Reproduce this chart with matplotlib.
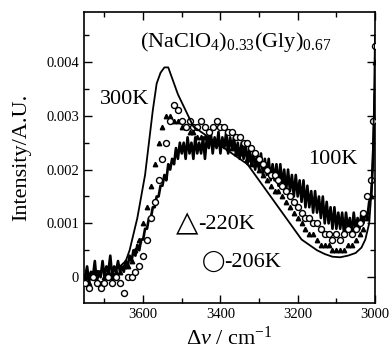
import numpy as np
import matplotlib
matplotlib.use('Agg')
import matplotlib.pyplot as plt
from matplotlib.ticker import MultipleLocator, FuncFormatter

plt.rcParams['font.family'] = ['Liberation Serif', 'DejaVu Serif']
plt.rcParams['mathtext.fontset'] = 'custom'
plt.rcParams['mathtext.rm'] = 'Liberation Serif'
plt.rcParams['mathtext.it'] = 'Liberation Serif:italic'

# ---- data -------------------------------------------------------------
# 300 K (solid line)
x_300 = [3750, 3720, 3690, 3660, 3645, 3635, 3625, 3615, 3605, 3595, 3585, 3575,
         3565, 3555, 3545, 3535, 3525, 3510, 3490, 3470, 3450, 3430, 3410, 3390,
         3370, 3350, 3330, 3310, 3290, 3270, 3250, 3230, 3210, 3190, 3170, 3150,
         3130, 3110, 3090, 3070, 3050, 3035, 3025, 3015, 3008, 3003, 3000]
y_300 = [0.00005, 0.0001, 0.00015, 0.0002, 0.0003, 0.0005, 0.0008, 0.0011, 0.0015,
         0.0019, 0.0025, 0.0031, 0.0036, 0.0038, 0.0039, 0.0039, 0.0037, 0.0034,
         0.0031, 0.0028, 0.0027, 0.0026, 0.0025, 0.0024, 0.0023, 0.0022, 0.0021,
         0.0019, 0.0017, 0.0015, 0.0013, 0.0011, 0.0009, 0.0007, 0.0006, 0.0005,
         0.00043, 0.00038, 0.00037, 0.0004, 0.00045, 0.00055, 0.0007, 0.001,
         0.0017, 0.003, 0.0045]

# 100 K (noisy line), every 5 cm-1 from 3750 down to 3000
x_100 = np.arange(3750, 2999, -5)
y_100 = [
    0.0000, 0.0002, -0.0001, 0.0001, 0.0000, 0.0003, -0.0001, 0.0001, 0.0000, 0.0003,
    0.0000, 0.0002, 0.0001, 0.0004, 0.0000, 0.0002, 0.0001, 0.0003, 0.0001, 0.0002,
    0.0001, 0.0003, 0.0002, 0.0004, 0.0003, 0.0005, 0.0004, 0.0006, 0.0005, 0.0007,
    0.0007, 0.0009, 0.0009, 0.0011, 0.0011, 0.0013, 0.0013, 0.0015, 0.0015, 0.0017,
    0.0017, 0.0019, 0.0018, 0.0021, 0.0020, 0.0022, 0.0021, 0.0024, 0.0022, 0.0025,
    0.0023, 0.0025, 0.0022, 0.0026, 0.0023, 0.0025, 0.0022, 0.0026, 0.0023, 0.0025,
    0.0023, 0.0026, 0.0022, 0.0026, 0.0024, 0.0027, 0.0023, 0.0026, 0.0024, 0.0027,
    0.0023, 0.0026, 0.0024, 0.0027, 0.0023, 0.0026, 0.0024, 0.0026, 0.0023, 0.0025,
    0.0022, 0.0025, 0.0022, 0.0025, 0.0021, 0.0024, 0.0021, 0.0023, 0.0020, 0.0023,
    0.0020, 0.0023, 0.0019, 0.0022, 0.0019, 0.0022, 0.0018, 0.0021, 0.0018, 0.0021,
    0.0017, 0.0021, 0.0017, 0.0020, 0.0016, 0.0020, 0.0016, 0.0019, 0.0015, 0.0019,
    0.0015, 0.0018, 0.0014, 0.0018, 0.0013, 0.0017, 0.0013, 0.0016, 0.0012, 0.0016,
    0.0012, 0.0015, 0.0011, 0.0015, 0.0010, 0.0014, 0.0010, 0.0013, 0.0009, 0.0013,
    0.0009, 0.0012, 0.0009, 0.0012, 0.0008, 0.0012, 0.0009, 0.0011, 0.0008, 0.0012,
    0.0009, 0.0011, 0.0009, 0.0012, 0.0010, 0.0012, 0.0011, 0.0014, 0.0015, 0.0022,
    0.0034]

# -220 K (filled triangles), every 10 cm-1
x_220 = np.arange(3750, 2999, -10)
y_220 = [
    0.0000, -0.0001, 0.0000, 0.0001, -0.0001, 0.0000, 0.0001, 0.0000, 0.0001, 0.0001,
    0.0002, 0.0002, 0.0003, 0.0005, 0.0007, 0.0010, 0.0013, 0.0017, 0.0021, 0.0025,
    0.0028, 0.0030, 0.0030, 0.0029, 0.0029, 0.0028, 0.0028, 0.0027, 0.0027, 0.0026,
    0.0026, 0.0026, 0.0026, 0.0025, 0.0025, 0.0025, 0.0025, 0.0024, 0.0024, 0.0023,
    0.0023, 0.0023, 0.0022, 0.0021, 0.0021, 0.0020, 0.0019, 0.0018, 0.0017, 0.0016,
    0.0016, 0.0015, 0.0014, 0.0013, 0.0012, 0.0011, 0.0010, 0.0009, 0.0008, 0.0008,
    0.0007, 0.0006, 0.0006, 0.0006, 0.0005, 0.0005, 0.0005, 0.0005, 0.0006, 0.0006,
    0.0007, 0.0008, 0.0009, 0.0011, 0.0015, 0.0040]

# -206 K (open circles)
x_206 = list(np.arange(3750, 3009, -10)) + [3005, 3000]
y_206 = [
    -0.0001, -0.0002, 0.0000, -0.0001, -0.0002, -0.0001, 0.0000, -0.0001, 0.0000, -0.0001,
    -0.0003, 0.0000, 0.0000, 0.0001, 0.0002, 0.0004, 0.0007, 0.0011, 0.0014, 0.0018,
    0.0022, 0.0025, 0.0029, 0.0032, 0.0031, 0.0029, 0.0028, 0.0029, 0.0028, 0.0028,
    0.0029, 0.0028, 0.0027, 0.0028, 0.0029, 0.0028, 0.0028, 0.0027, 0.0027, 0.0026,
    0.0026, 0.0025, 0.0025, 0.0024, 0.0023, 0.0022, 0.0021, 0.0020, 0.0019, 0.0019,
    0.0018, 0.0017, 0.0016, 0.0015, 0.0014, 0.0013, 0.0012, 0.0011, 0.0011, 0.0010,
    0.0010, 0.0009, 0.0008, 0.0008, 0.0007, 0.0008, 0.0007, 0.0008, 0.0009, 0.0008,
    0.0009, 0.0010, 0.0012, 0.0015, 0.0018, 0.0029, 0.0043]

x_ticks = [3600, 3400, 3200, 3000]
y_ticks = [0, 0.001, 0.002, 0.003, 0.004]

# ---- figure -----------------------------------------------------------
fig = plt.figure(figsize=(3.92, 3.51), dpi=100)
ax = fig.add_axes([0.2143, 0.1368, 0.7423, 0.829])

ax.plot(x_100, y_100, color='black', lw=1.9, zorder=2)
ax.plot(x_220, y_220, ls='none', marker='^', ms=3.2, color='black', zorder=3)
ax.plot(x_206, y_206, ls='none', marker='o', ms=4.3, mfc='white', mec='black',
        mew=1.0, zorder=4)
ax.plot(x_300, y_300, color='black', lw=1.3, zorder=5)

ax.set_xlim(3753, 3000)
ax.set_ylim(-0.00048, 0.00493)
ax.set_xticks(x_ticks)
ax.set_yticks(y_ticks)
ax.xaxis.set_minor_locator(MultipleLocator(100))
ax.yaxis.set_minor_locator(MultipleLocator(0.0005))
ax.yaxis.set_major_formatter(FuncFormatter(lambda v, p: '0' if abs(v) < 1e-9 else f'{v:.3f}'))
ax.tick_params(which='both', direction='in', top=True, right=True, width=1.0,
               labelsize=10.5)
ax.tick_params(which='major', length=6)
ax.tick_params(which='minor', length=3.5)
for s in ax.spines.values():
    s.set_linewidth(1.2)

ax.set_ylabel('Intensity/A.U.', fontsize=16, labelpad=11)
ax.set_xlabel(r'$\Delta\mathit{\nu}$ / cm$^{-1}$', fontsize=16, labelpad=4)

ax.text(3361, 0.00437, r'(NaClO$_4$)$_{0.33}$(Gly)$_{0.67}$', fontsize=16,
        ha='center', va='center')
ax.text(3711, 0.0033, '300K', fontsize=16, ha='left', va='center')
ax.text(3174, 0.00218, '100K', fontsize=16, ha='left', va='center')
ax.text(3514, 0.00100, '\u25b3', fontsize=21, ha='left', va='center',
        family=['DejaVu Sans'])
ax.text(3458, 0.00098, '-220K', fontsize=16, ha='left', va='center')
ax.text(3447, 0.00030, '\u25ef', fontsize=15, ha='left', va='center',
        family=['DejaVu Sans'])
ax.text(3391, 0.00028, '-206K', fontsize=16, ha='left', va='center')

fig.savefig('out.png', dpi=100)
